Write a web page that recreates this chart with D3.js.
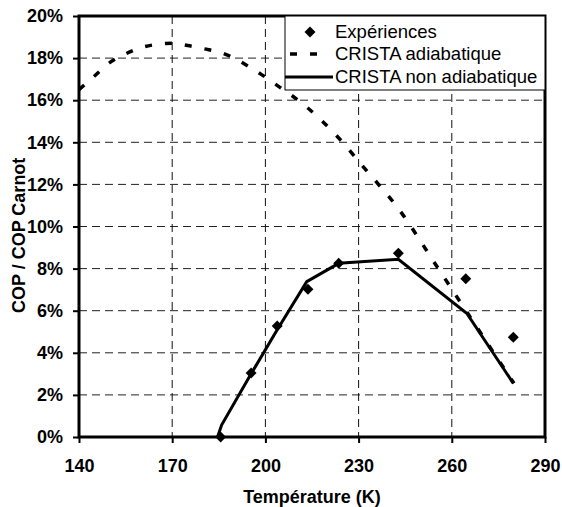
<!DOCTYPE html>
<html>
<head>
<meta charset="utf-8">
<script src="https://cdn.jsdelivr.net/npm/d3@7"></script>
<style>
  body { margin: 0; background: #fff; }
  text { font-family: "Liberation Sans", Arial, sans-serif; }
  .tick text { font-weight: bold; font-size: 18px; }
</style>
</head>
<body>
<svg id="chart"></svg>
<script>
// temperatures (K) and COP / COP Carnot (%)
const expT = [185.6, 195.4, 203.8, 213.7, 223.6, 242.8, 264.5, 279.8];
const expCop = [0, 3.04, 5.27, 7.02, 8.25, 8.73, 7.52, 4.74];

const adiaT = [140, 145, 150, 155, 160, 165, 170, 175, 180, 186, 195, 204, 213, 223, 232, 243, 255, 265, 280];
const adiaCop = [16.5, 17.15, 17.8, 18.2, 18.5, 18.65, 18.7, 18.6, 18.45, 18.25, 17.57, 16.68, 15.71, 14.3, 12.75, 10.81, 8.15, 5.9, 2.55];

const nonAdiaT = [184.6, 185.9, 195.4, 203.8, 213.3, 223.6, 242.8, 264.8, 279.8];
const nonAdiaCop = [0, 0.57, 3.0, 5.1, 7.38, 8.25, 8.44, 5.88, 2.55];

const xTicks = [140, 170, 200, 230, 260, 290];
const yTicks = [0, 2, 4, 6, 8, 10, 12, 14, 16, 18, 20];

const legendLabels = ["Expériences", "CRISTA adiabatique", "CRISTA non adiabatique"];

// set the margin
const margin = {top: 16, right: 17, bottom: 70, left: 79};
const width = 562 - margin.left - margin.right;
const height = 507 - margin.top - margin.bottom;

const x = d3.scaleLinear().domain([140, 290]).range([0, width]);
const y = d3.scaleLinear().domain([0, 20]).range([height, 0]);

const svg = d3.select("#chart")
    .attr("width", 562)
    .attr("height", 507)
  .append("g")
    .attr("transform", "translate(" + margin.left + "," + margin.top + ")");

// gridlines
svg.append("g")
    .selectAll("line")
    .data(yTicks.filter(d => d > 0 && d < 20))
    .enter().append("line")
      .attr("x1", 0).attr("x2", width)
      .attr("y1", d => y(d)).attr("y2", d => y(d))
      .attr("stroke", "#222")
      .attr("stroke-width", 1)
      .attr("stroke-dasharray", "8,5");

svg.append("g")
    .selectAll("line")
    .data(xTicks.filter(d => d > 140 && d < 290))
    .enter().append("line")
      .attr("x1", d => x(d)).attr("x2", d => x(d))
      .attr("y1", 0).attr("y2", height)
      .attr("stroke", "#111")
      .attr("stroke-width", 1)
      .attr("stroke-dasharray", "8,5");

// axes
const yAxis = svg.append("g")
    .call(d3.axisLeft(y).tickValues(yTicks).tickSize(6).tickPadding(10).tickFormat(d => d + "%"));
const xAxis = svg.append("g")
    .attr("transform", "translate(0," + height + ")")
    .call(d3.axisBottom(x).tickValues(xTicks).tickSize(6).tickPadding(16).tickFormat(d3.format("d")));

[yAxis, xAxis].forEach(a => {
    a.select(".domain").remove();
    a.selectAll(".tick line").attr("stroke", "#000").attr("stroke-width", 2);
    a.selectAll(".tick text").attr("fill", "#000");
});

// plot border
svg.append("rect")
    .attr("x", 0).attr("y", 0)
    .attr("width", width).attr("height", height)
    .attr("fill", "none")
    .attr("stroke", "#000")
    .attr("stroke-width", 3);

const adiaData = adiaT.map((t, i) => ({x: t, y: adiaCop[i]}));
const nonAdiaData = nonAdiaT.map((t, i) => ({x: t, y: nonAdiaCop[i]}));
const expData = expT.map((t, i) => ({x: t, y: expCop[i]}));

const line = d3.line().x(d => x(d.x)).y(d => y(d.y));

svg.append("path")
    .datum(adiaData)
    .attr("fill", "none")
    .attr("stroke", "#000")
    .attr("stroke-width", 3.5)
    .attr("stroke-dasharray", "7,13")
    .attr("d", line.curve(d3.curveMonotoneX));

svg.append("path")
    .datum(nonAdiaData)
    .attr("fill", "none")
    .attr("stroke", "#000")
    .attr("stroke-width", 3)
    .attr("d", line.curve(d3.curveLinear));

const diamond = d3.symbol().type(d3.symbolSquare).size(60);

svg.selectAll(".exp")
    .data(expData)
    .enter().append("path")
      .attr("class", "exp")
      .attr("d", diamond)
      .attr("transform", d => "translate(" + x(d.x) + "," + y(d.y) + ") rotate(45)")
      .attr("fill", "#000");

// legend
const legend = svg.append("g").attr("transform", "translate(" + (285 - margin.left) + ",0)");
legend.append("rect")
    .attr("x", 0).attr("y", 0)
    .attr("width", width - (285 - margin.left)).attr("height", 74)
    .attr("fill", "#fff")
    .attr("stroke", "#000")
    .attr("stroke-width", 1);

const rowY = [16, 38, 61];
legend.append("path")
    .attr("d", diamond)
    .attr("transform", "translate(25," + rowY[0] + ") rotate(45)")
    .attr("fill", "#000");
legend.append("line")
    .attr("x1", 5).attr("x2", 32)
    .attr("y1", rowY[1]).attr("y2", rowY[1])
    .attr("stroke", "#000").attr("stroke-width", 3.5)
    .attr("stroke-dasharray", "7,13");
legend.append("line")
    .attr("x1", 0).attr("x2", 48)
    .attr("y1", rowY[2]).attr("y2", rowY[2])
    .attr("stroke", "#000").attr("stroke-width", 3);

legend.selectAll(".leg")
    .data(legendLabels)
    .enter().append("text")
      .attr("x", 50)
      .attr("y", (d, i) => rowY[i])
      .attr("dy", "0.35em")
      .attr("font-size", "18.5px")
      .text(d => d);

// axis titles
svg.append("text")
    .attr("transform", "rotate(-90)")
    .attr("x", -(313 - margin.top))
    .attr("y", -54)
    .attr("text-anchor", "start")
    .attr("font-weight", "bold")
    .attr("font-size", "18px")
    .text("COP / COP Carnot");

svg.append("text")
    .attr("x", width / 2)
    .attr("y", height + 66)
    .attr("text-anchor", "middle")
    .attr("font-weight", "bold")
    .attr("font-size", "18px")
    .text("Température (K)");
</script>
</body>
</html>
